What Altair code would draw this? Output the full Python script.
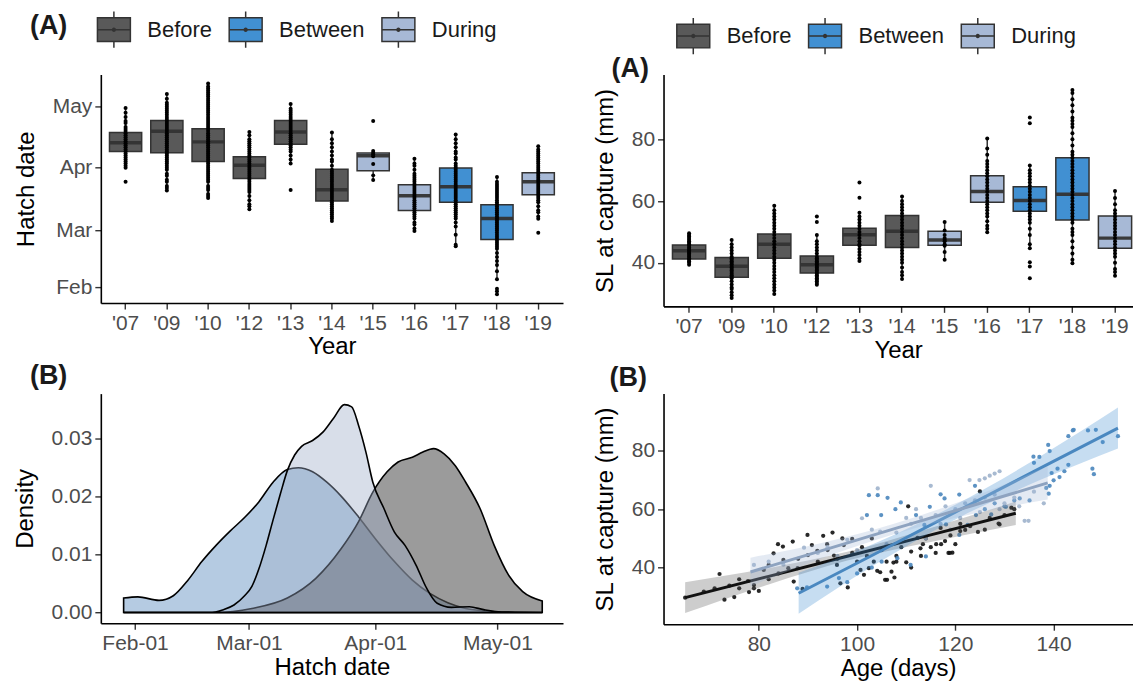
import altair as alt
import pandas as pd

FONT = "Liberation Sans"
INK = "#1a1a1a"
AXIS_GREY = "#4d4d4d"

# ---------------- shared categories ----------------
YEARS = ["'07", "'09", "'10", "'12", "'13", "'14", "'15", "'16", "'17", "'18", "'19"]
YEAR_PERIOD = ["Before", "Before", "Before", "Before", "Before", "Before",
               "During", "During", "Between", "Between", "During"]
PERIODS = ["Before", "Between", "During"]
BOX_FILL = ["#595959", "#4190d2", "#a7b9d6"]
PANEL_LABELS = ["(A)", "(A)", "(B)", "(B)"]

# ---------------- top-left: hatch date (day of year) by year ----------------
MONTH_DOY = [32, 60, 91, 121]
MONTH_ABBR = ["Feb", "Mar", "Apr", "May"]
MONTH_DAY1 = ["Feb-01", "Mar-01", "Apr-01", "May-01"]

HATCH_LO = [91, 80, 76, 70.5, 93, 64.7, 84.9, 59.8, 52.3, 36, 65.8]
HATCH_Q1 = [98.9, 98.4, 94, 85.7, 102.5, 74.6, 89.5, 69.9, 73.9, 55.6, 77.7]
HATCH_MED = [103.3, 108.9, 103.7, 92.2, 108.6, 80.1, 96.9, 77.2, 81.6, 66, 84.1]
HATCH_Q3 = [108.3, 114.2, 110.2, 96.4, 114.2, 90.2, 98.2, 82.6, 90.8, 72.7, 88.5]
HATCH_HI = [120.4, 127.3, 132.4, 108.6, 122.4, 108.3, 99.2, 95.4, 107.3, 86.4, 101.5]
HATCH_DOTS = [
    [84, 91, 92, 93, 94, 95, 96, 97, 98, 99, 100, 101, 102, 103, 104, 105, 106, 107, 108, 109, 110, 111, 113, 114, 116, 118, 120.4],
    [79.7, 81, 82, 84, 85, 87, 88, 90, 91, 92, 93, 94, 95, 96, 97, 98, 99, 100, 101, 102, 103, 104, 105, 106, 107, 108,
     109, 110, 111, 112, 113, 114, 115, 116, 117, 118, 119, 120, 121, 122, 123, 125, 127.3],
    [76, 77, 78, 80, 81, 82, 84, 85, 86, 87, 88, 89, 90, 91, 92, 93, 94, 95, 96, 97, 98, 99, 100, 101, 102, 103, 104,
     105, 106, 107, 108, 109, 110, 111, 112, 113, 114, 115, 116, 117, 118, 119, 120, 121, 122, 123, 124, 125, 126, 127,
     128, 129, 130, 131, 132.4],
    [70.5, 72, 73, 75, 77, 79, 80, 81, 82, 83, 84, 85, 86, 87, 88, 89, 90, 91, 92, 93, 94, 95, 96, 97, 98, 99, 100,
     101, 102, 103, 104, 105, 107, 108.6],
    [80, 93, 95, 97, 99, 100, 101, 102, 103, 104, 105, 106, 107, 108, 109, 110, 111, 112, 113, 114, 115, 116, 117,
     118, 119, 120, 122.4],
    [64.7, 66, 67, 68, 69, 70, 71, 72, 73, 74, 75, 76, 77, 78, 79, 80, 81, 82, 83, 84, 85, 86, 87, 88, 89, 90, 92, 94,
     95, 97, 99, 101, 103, 105, 108.3],
    [84.9, 87.2, 92.8, 96.6, 97.5, 98.2, 99.2, 114],
    [59.8, 61, 63, 64, 66, 67, 68, 69, 70, 71, 72, 73, 74, 75, 76, 77, 78, 79, 80, 81, 82, 83, 84, 85, 86, 87, 88, 90,
     92, 93, 95.4],
    [52.3, 53, 58, 62, 64, 66, 67, 68, 69, 70, 71, 72, 73, 74, 75, 76, 77, 78, 79, 80, 81, 82, 83, 84, 85, 86, 87, 88,
     89, 90, 91, 92, 93, 95, 96, 98, 99, 101, 103, 105, 107.3],
    [28.7, 30.1, 31.3, 36, 40, 43, 45, 47, 49, 51, 52, 53, 54, 55, 56, 57, 58, 59, 60, 61, 62, 63, 64, 65, 66, 67, 68,
     69, 70, 71, 72, 73, 74, 75, 76, 77, 78, 79, 80, 81, 82, 83, 84, 86.4],
    [58.9, 65.8, 67, 69, 70, 72, 74, 75, 76, 77, 78, 79, 80, 81, 82, 83, 84, 85, 86, 87, 88, 89, 90, 91, 92, 93, 94,
     95, 96, 97, 98, 99, 100, 101.5],
]

# ---------------- top-right: SL at capture (mm) by year ----------------
SL_LO = [39.4, 28.6, 29.9, 32.9, 40.6, 34.8, 41, 49.9, 44.7, 39.9, 35.8]
SL_Q1 = [41.2, 35.3, 41.5, 36.7, 45.7, 45, 45.7, 59.6, 56.7, 53.9, 44.7]
SL_MED = [43.9, 38.9, 46, 39.4, 49.1, 50.2, 47.4, 63.1, 60.2, 62.2, 48]
SL_Q3 = [45.8, 41.7, 49.3, 42.2, 51.2, 55.3, 50.2, 68.2, 64.6, 74, 55.2]
SL_HI = [49.6, 47.4, 58.5, 49, 56.2, 61.5, 53.2, 80.3, 71.5, 96, 63.3]
SL_DOTS = [
    [39.4, 40, 40.5, 41, 41.5, 42, 42.5, 43, 43.5, 44, 44.5, 45, 45.5, 46, 46.5, 47, 47.5, 48, 48.5, 49, 49.6],
    [28.6, 29.5, 30.5, 31.5, 32, 33, 34, 35, 35.5, 36, 36.5, 37, 37.5, 38, 38.5, 39, 39.5, 40, 40.5, 41, 41.5, 42, 43,
     44, 45, 46, 47.4],
    [29.9, 31, 32, 33, 34, 35, 36, 37, 38, 39, 40, 41, 42, 43, 44, 45, 46, 47, 48, 49, 50, 51, 52, 53, 54, 55, 56, 57,
     58.5],
    [32.9, 33.5, 34, 34.5, 35, 35.5, 36, 36.5, 37, 37.5, 38, 38.5, 39, 39.5, 40, 40.5, 41, 41.5, 42, 43, 44, 45, 46,
     47, 49, 53.2, 55],
    [40.6, 41.5, 42.5, 43.5, 44.5, 45.5, 46, 47, 48, 49, 50, 51, 52, 53, 54, 55, 56.2, 61.1, 66],
    [34.8, 36, 37, 38.5, 40, 41, 42, 43, 44, 45, 46, 47, 48, 49, 50, 51, 52, 53, 54, 55, 56, 57, 58, 59, 60, 61.5],
    [41, 43.5, 45.5, 46, 47, 47.5, 48, 49, 50.5, 53.2],
    [49.9, 51, 52, 53.5, 55, 56, 57, 58, 59, 60, 61, 62, 63, 64, 65, 66, 67, 68, 69, 70, 71, 72, 73, 75, 77, 80.3],
    [35, 38.8, 40.2, 44.7, 46, 49, 51, 53, 54, 55, 56, 57, 58, 59, 60, 61, 62, 63, 64, 65, 66, 67, 68, 69, 70, 71.5,
     85.2, 87.1],
    [39.9, 41, 43, 45, 47, 49, 50, 51, 53, 54, 55, 56, 57, 58, 59, 60, 61, 62, 63, 64, 65, 66, 67, 68, 69, 70, 71, 72,
     73, 74, 75, 76, 78, 80, 82, 84, 85, 86, 87, 89, 91, 93, 95, 96],
    [35.8, 37, 38, 40, 42, 43, 44, 45, 46, 47, 48, 49, 50, 51, 52, 53, 54, 55, 56, 57, 59, 61, 63.3],
]

# ---------------- bottom-left: density of hatch date (day of year) ----------------
DENS_BETWEEN_DOY = [29.2, 32.7, 37.9, 41.4, 44.9, 48.4, 51.9, 55.4, 58.9, 62.4, 65.9, 69.4, 72.1, 75.6, 79.1, 82.6,
                    86.9, 91.3, 95.7, 100.1, 104.4, 108.8, 113.2, 117.6, 122, 132]
DENS_BETWEEN = [0.0025, 0.0027, 0.0021, 0.0029, 0.0055, 0.0088, 0.0116, 0.0141, 0.0164, 0.0191, 0.0225, 0.0247,
                0.0250, 0.0243, 0.0225, 0.0201, 0.0165, 0.0125, 0.0088, 0.0056, 0.0033, 0.0017, 0.0007, 0.0003,
                0.0001, 0.0]
DENS_BEFORE_DOY = [29.2, 51.9, 60.7, 69.4, 76.4, 82.6, 86.9, 90.4, 93.9, 96.6, 100.1, 102.7, 105.3, 107.9, 110.6,
                   113.2, 116.7, 120.2, 123.7, 127.2, 132]
DENS_BEFORE = [0.0, 0.0, 0.0007, 0.0025, 0.0059, 0.011, 0.0157, 0.0208, 0.0243, 0.026, 0.0268, 0.0277, 0.0283,
               0.0274, 0.0254, 0.0225, 0.018, 0.0116, 0.0065, 0.0036, 0.002]
DENS_DURING_DOY = [29.2, 50.2, 53.7, 56.3, 58.9, 60.7, 62.4, 64.2, 65.9, 67.7, 69.4, 71.2, 72.9, 75.6, 78.2, 80.8,
                   83.4, 85.2, 86.9, 88.7, 90.4, 93.1, 95.7, 98.3, 101, 103.6, 106.2, 109.7, 114.1, 117.6, 122, 132]
DENS_DURING = [0.0, 0.0, 0.0005, 0.0013, 0.0029, 0.0045, 0.0075, 0.0116, 0.016, 0.0205, 0.0245, 0.0272, 0.0287,
               0.0297, 0.0312, 0.0336, 0.0359, 0.0355, 0.0323, 0.0277, 0.0225, 0.018, 0.0139, 0.0116, 0.0082,
               0.0042, 0.0016, 0.0009, 0.001, 0.0005, 0.0001, 0.0]
DENS_FILL = {"Before": "#595959", "Between": "#6b98c5", "During": "#9eadc8"}
DENS_ALPHA = {"Before": 0.6, "Between": 0.5, "During": 0.4}

# ---------------- bottom-right: SL vs age ----------------
BEFORE_AGE = [65, 68.8, 71, 72, 73, 74, 75, 76, 77.8, 78, 79, 80, 81, 82, 83, 83.9, 84.9, 85, 86, 86.9, 87.1, 87.9,
              88.9, 89.9, 90, 90.8, 91.9, 93.1, 93.9, 95, 95.3, 95.9, 96.6, 97.3, 98.1, 99, 100, 100.7, 101.4, 102.4,
              103.4, 104.1, 104.7, 105.7, 106.1, 107, 107.4, 107.6, 108, 110, 110.4, 111, 112.3, 112.9, 113.4, 116,
              116.1, 117, 117.1, 117.9, 118.6, 118.9, 119.4, 120, 121, 122, 123, 124.6, 125, 128.8, 129, 131.4, 132,
              92, 94, 96, 97, 99, 101, 102, 103, 105, 106, 108, 109, 111, 113, 114, 115, 119, 121, 126, 127, 130, 88,
              84, 82, 79, 76]
BEFORE_SL = [29.7, 31.8, 32.9, 37.8, 29, 33.8, 29.9, 32.9, 35.4, 31.6, 32.9, 32, 39.2, 40.9, 44.9, 48, 47.2, 42.6,
             39.8, 48.9, 35.2, 39.8, 32.7, 51.2, 44.3, 47.7, 45.7, 50.9, 48, 52, 44.1, 40.9, 34.6, 47.7, 33.2, 49.8,
             42, 39.2, 37.5, 39.8, 42, 38.9, 38.4, 35.8, 35.8, 38.6, 41.7, 36.6, 42, 41.8, 61, 45.5, 50.2, 46.6, 48,
             45, 48, 53.6, 48, 49.1, 45, 45, 45.1, 48, 52.5, 52.9, 54.2, 52.2, 66.1, 55.1, 54.8, 60.5, 60,
             42, 46, 43, 50, 45, 47, 44, 50, 46, 42, 44, 47, 40, 44, 50, 47, 51, 55, 53, 57, 58, 43,
             38, 36, 34, 36]
BETWEEN_AGE = [143.9, 143, 147, 150, 153.1, 148.2, 142.2, 141.2, 140, 139.2, 139, 136, 137.1, 139.2, 135.1, 124,
               117, 108.9, 107.8, 104.9, 112, 114.8, 117.8, 120.8, 102.4, 104.2, 106.2, 102, 87.8, 89.8, 93.9, 96.3,
               98, 100, 103, 105, 110.9, 108.2, 114, 120.8, 122.5, 118.1, 113.7, 126, 128, 130, 132, 124.2, 127.3,
               130.3, 133.1, 135.9, 138.9, 144.1, 148.6, 147.9, 140.8, 143, 139.6, 138.5]
BETWEEN_SL = [87, 85, 87, 83, 85, 72, 73, 71, 69.9, 68, 65.3, 75.9, 77.9, 79.9, 63, 68, 65.1, 62.3, 60, 58, 58,
              60.8, 63.7, 65, 64.8, 64.8, 63.9, 58, 32.9, 33.2, 33.5, 36.4, 35, 38, 40, 42, 40.9, 43.2, 43.8, 51.2,
              54.6, 54.8, 54.6, 60, 62, 61, 63, 58, 58.2, 60.8, 63.7, 78, 82, 87.2, 87.2, 73.9, 73.9, 75.2, 72.4,
              67.3]
DURING_AGE = [79, 89.2, 98, 104.7, 104.2, 101, 115, 122.9, 124.9, 126, 127, 128, 129, 138, 134.1, 134.9, 110, 112,
              116, 118, 120, 122, 124, 126, 128, 130, 132, 96, 100, 106, 108, 111, 94, 92, 85, 82, 103, 113, 117,
              121, 125, 129, 133, 136, 114, 119]
DURING_SL = [40.9, 46.8, 49.5, 52.3, 67.1, 56.9, 68, 70, 70, 70.6, 71.5, 72.2, 73, 62, 56, 56, 57, 60, 58, 61, 60,
             62, 63, 64, 65, 62, 64, 44, 46, 48, 52, 55, 47, 45, 41, 42, 53, 57, 55, 57, 59, 60, 61, 66, 50, 53]
FIT_AGE = {"Before": [65, 82, 98, 115, 132.3],
           "Between": [88.1, 104, 120, 137, 153.1],
           "During": [78.3, 93, 108, 123, 138.8]}
FIT_SL = {"Before": [29.7, 37.0, 43.9, 51.2, 58.6],
          "Between": [31.2, 45.0, 59.0, 73.8, 87.8],
          "During": [38.5, 45.9, 53.5, 61.0, 69.0]}
FIT_LO = {"Before": [24.4, 34.2, 42.4, 48.8, 54.6],
          "Between": [24.2, 41.4, 56.5, 69.8, 80.8],
          "During": [33.6, 43.3, 51.7, 58.2, 63.3]}
FIT_HI = {"Before": [35.0, 39.8, 45.4, 53.6, 62.6],
          "Between": [38.2, 48.6, 61.5, 77.8, 94.8],
          "During": [43.4, 48.5, 55.3, 63.8, 74.7]}
PT_COLOR = {"Before": "#111111", "Between": "#4a86bd", "During": "#9fb2cc"}
LINE_COLOR = {"Before": "#111111", "Between": "#4a88c0", "During": "#8ea3c0"}
BAND_COLOR = {"Before": "#595959", "Between": "#4190d2", "During": "#a7b9d6"}

# ---------------- helpers ----------------
BOX_GLYPH = ("M-1,-0.72H1V0.72H-1Z M-1,0H1 M0,-0.72V-1.1 M0,0.72V1.1 "
             "M-0.09,0a0.09,0.09 0 1,0 0.18,0a0.09,0.09 0 1,0 -0.18,0")


def label_expr(vals, labels):
    expr = "''"
    for v, l in reversed(list(zip(vals, labels))):
        expr = f"datum.value == {v} ? '{l}' : {expr}"
    return expr


def panel_label(text, dx, dy):
    return alt.Chart(pd.DataFrame({"t": [text]})).mark_text(
        font=FONT, fontSize=27, fontWeight="bold", color=INK, align="left", baseline="middle"
    ).encode(text="t:N", x=alt.value(dx), y=alt.value(dy))


def box_panel(lo, q1, med, q3, hi, dots, ydomain, yaxis, xscale, bandw, legend, w, h, lab):
    stats = pd.DataFrame({"year": YEARS, "period": YEAR_PERIOD, "lo": lo, "q1": q1,
                          "med": med, "q3": q3, "hi": hi})
    pts = pd.DataFrame([{"year": y, "v": v} for y, vals in zip(YEARS, dots) for v in vals])
    x_enc = alt.X("year:N", scale=xscale,
                  axis=alt.Axis(title="Year", labelAngle=0, titlePadding=2))
    y_scale = alt.Scale(domain=ydomain, nice=False, zero=False)
    base = alt.Chart(stats)
    whisk = base.mark_rule(color="#333333", strokeWidth=1.5).encode(
        x=x_enc, y=alt.Y("lo:Q", scale=y_scale, axis=yaxis), y2="hi:Q")
    box = base.mark_bar(stroke="#333333", strokeWidth=1.5, opacity=1).encode(
        x=x_enc, y=alt.Y("q1:Q", scale=y_scale), y2="q3:Q",
        color=alt.Color("period:N", scale=alt.Scale(domain=PERIODS, range=BOX_FILL), legend=legend))
    medl = base.mark_tick(color="#333333", thickness=3.5, size=bandw, opacity=0.95).encode(
        x=x_enc, y=alt.Y("med:Q", scale=y_scale))
    dotl = alt.Chart(pts).mark_circle(color="black", size=16, opacity=1).encode(
        x=x_enc, y=alt.Y("v:Q", scale=y_scale))
    return alt.layer(whisk, box, medl, dotl, lab).properties(width=w, height=h)


def make_legend(lx, ly):
    return alt.Legend(title=None, orient="none", legendX=lx, legendY=ly, direction="horizontal",
                      symbolType=BOX_GLYPH, symbolSize=1089, symbolStrokeColor="#333333",
                      symbolStrokeWidth=1.5, symbolOpacity=1, labelFont=FONT, labelFontSize=22,
                      labelColor=INK, labelOffset=16, columnPadding=14, labelLimit=300)


# ---------------- panels (grid: row tops shared) ----------------
TLW, TLH = 463, 229
TRW, TRH = 470, 232.3
BLW, BLH = 463, 230
BRW, BRH = 470, 231

tl = box_panel(
    HATCH_LO, HATCH_Q1, HATCH_MED, HATCH_Q3, HATCH_HI, HATCH_DOTS,
    [24.3, 136.9],
    alt.Axis(title="Hatch date", values=MONTH_DOY, labelExpr=label_expr(MONTH_DOY, MONTH_ABBR),
             titlePadding=14),
    alt.Scale(domain=YEARS, paddingInner=0.22, paddingOuter=0.21),
    0.78 * TLW / 11.2, make_legend(-4.4, -62.5), TLW, TLH,
    panel_label(PANEL_LABELS[0], -71, -49))

tr = box_panel(
    SL_LO, SL_Q1, SL_MED, SL_Q3, SL_HI, SL_DOTS,
    [25.9, 101.0],
    alt.Axis(title="SL at capture (mm)", values=[40, 60, 80], titlePadding=14),
    alt.Scale(domain=YEARS, paddingInner=0.22, paddingOuter=0.1175, align=0.893),
    0.78 * 42.67, make_legend(12.3, -56.2), TRW, TRH,
    panel_label(PANEL_LABELS[1], -52, -5))

# density panel
dens_rows = []
for g, xs, ys in [("Between", DENS_BETWEEN_DOY, DENS_BETWEEN),
                  ("Before", DENS_BEFORE_DOY, DENS_BEFORE),
                  ("During", DENS_DURING_DOY, DENS_DURING)]:
    for xv, yv in zip(xs, ys):
        dens_rows.append({"group": g, "doy": xv, "dens": yv})
dens_df = pd.DataFrame(dens_rows)
bl_x = alt.X("doy:Q", scale=alt.Scale(domain=[23.6, 137.1], nice=False, zero=False),
             axis=alt.Axis(title="Hatch date", values=MONTH_DOY,
                           labelExpr=label_expr(MONTH_DOY, MONTH_DAY1), titlePadding=2))
bl_y = alt.Y("dens:Q", scale=alt.Scale(domain=[-0.00184, 0.0378], nice=False, zero=False),
             axis=alt.Axis(title="Density", values=[0, 0.01, 0.02, 0.03], format=".2f", titlePadding=14))
bl_layers = []
for g in ["Between", "Before", "During"]:
    bl_layers.append(
        alt.Chart(dens_df).transform_filter(alt.datum.group == g).mark_area(
            fill=DENS_FILL[g], fillOpacity=DENS_ALPHA[g], stroke="black", strokeWidth=1.6,
            strokeOpacity=1, interpolate="monotone").encode(x=bl_x, y=bl_y))
bl = alt.layer(*bl_layers, panel_label(PANEL_LABELS[2], -71, -18)).properties(width=BLW, height=BLH)

# scatter panel
sc_rows = []
for g, xs, ys in [("Before", BEFORE_AGE, BEFORE_SL), ("Between", BETWEEN_AGE, BETWEEN_SL),
                  ("During", DURING_AGE, DURING_SL)]:
    for xv, yv in zip(xs, ys):
        sc_rows.append({"group": g, "age": xv, "sl": yv})
sc_df = pd.DataFrame(sc_rows)
fit_rows = []
for g in ["Before", "Between", "During"]:
    for a, s, lo, hi in zip(FIT_AGE[g], FIT_SL[g], FIT_LO[g], FIT_HI[g]):
        fit_rows.append({"group": g, "age": a, "sl": s, "lo": lo, "hi": hi})
fit_df = pd.DataFrame(fit_rows)
br_xs = alt.Scale(domain=[60.6, 156.1], nice=False, zero=False)
br_ys = alt.Scale(domain=[20.6, 99.6], nice=False, zero=False)
br_x = alt.X("age:Q", scale=br_xs, axis=alt.Axis(title="Age (days)", values=[80, 100, 120, 140], titlePadding=2))
br_y = alt.Y("sl:Q", scale=br_ys, axis=alt.Axis(title="SL at capture (mm)", values=[40, 60, 80], titlePadding=14))
br_layers = []
for g in ["Before", "Between", "During"]:
    br_layers.append(
        alt.Chart(sc_df).transform_filter(alt.datum.group == g).mark_circle(
            color=PT_COLOR[g], size=18, opacity=0.9).encode(x=br_x, y=br_y))
for g in ["Before", "Between", "During"]:
    br_layers.append(
        alt.Chart(fit_df).transform_filter(alt.datum.group == g).mark_area(
            color=BAND_COLOR[g], opacity=0.3, interpolate="monotone").encode(
            x=alt.X("age:Q", scale=br_xs), y=alt.Y("lo:Q", scale=br_ys), y2="hi:Q"))
    br_layers.append(
        alt.Chart(fit_df).transform_filter(alt.datum.group == g).mark_line(
            color=LINE_COLOR[g], strokeWidth=3).encode(
            x=alt.X("age:Q", scale=br_xs), y=alt.Y("sl:Q", scale=br_ys)))
br = alt.layer(*br_layers, panel_label(PANEL_LABELS[3], -54, -16)).properties(width=BRW, height=BRH)

chart = alt.concat(
    tl, tr, bl, br, columns=2, spacing={"row": 86.7, "column": 100.7}, bounds="flush"
).resolve_scale(
    color="independent"
).properties(
    padding={"left": 13, "top": 11, "right": 0, "bottom": 4}
).configure(font=FONT).configure_view(stroke=None).configure_axis(
    grid=False, domainColor="black", domainWidth=1.6, tickColor="#333333", tickWidth=1.4,
    tickSize=6, labelFont=FONT, labelFontSize=21, labelColor=AXIS_GREY, labelPadding=3,
    titleFont=FONT, titleFontSize=24, titleColor="black", titleFontWeight="normal")

chart.save("out.html", embed_options={"renderer": "svg", "actions": False})
